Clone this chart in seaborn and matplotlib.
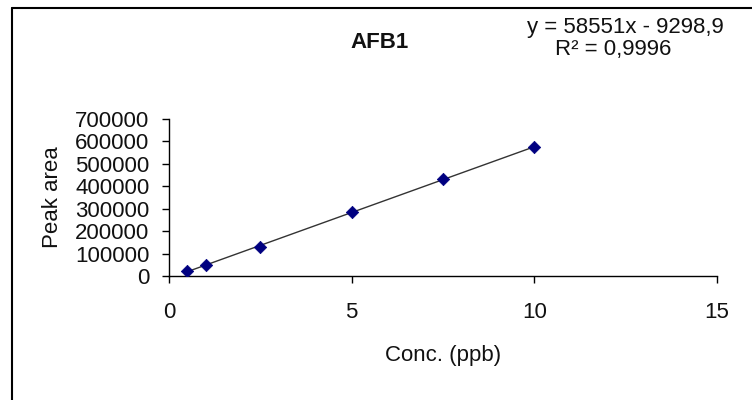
import matplotlib
matplotlib.use("Agg")
import matplotlib.pyplot as plt
from matplotlib.lines import Line2D
import seaborn as sns
import pandas as pd

# Data
conc = [0.5, 1.0, 2.5, 5.0, 7.5, 10.0]
peak_area = [23000, 48500, 130000, 285000, 431000, 576000]
x_ticks = [0, 5, 10, 15]
y_ticks = [0, 100000, 200000, 300000, 400000, 500000, 600000, 700000]
y_tick_labels = ["0", "100000", "200000", "300000", "400000", "500000", "600000", "700000"]
title = "AFB1"
eq_line1 = "y = 58551x - 9298,9"
eq_line2 = "R² = 0,9996"

df = pd.DataFrame({"conc": conc, "area": peak_area})

sns.set_style("ticks")
plt.rcParams["font.family"] = ["Liberation Sans", "DejaVu Sans"]

W, H = 752, 400
fig = plt.figure(figsize=(W / 100, H / 100), dpi=100)
ax = fig.add_axes([169 / W, 1 - 276 / H, (717 - 169) / W, (276 - 119) / H])

sns.regplot(data=df, x="conc", y="area", ax=ax, ci=None, truncate=True,
            marker="D",
            scatter_kws=dict(color="#000080", s=40, alpha=1, edgecolors="#000080",
                             linewidths=0.5, zorder=3),
            line_kws=dict(color="#333333", linewidth=1.0, zorder=2))

ax.set_xlim(0, 15)
ax.set_ylim(0, 700000)
ax.set_xticks(x_ticks)
ax.set_xticklabels([str(t) for t in x_ticks])
ax.set_yticks(y_ticks)
ax.set_yticklabels(y_tick_labels)

for s in ["top", "right"]:
    ax.spines[s].set_visible(False)
for s in ["left", "bottom"]:
    ax.spines[s].set_color("black")
    ax.spines[s].set_linewidth(1.0)

ax.tick_params(axis="both", which="major", direction="out", length=5, width=1.0,
               color="black", labelsize=16, labelcolor="#111111")
ax.tick_params(axis="x", pad=14)
ax.tick_params(axis="y", pad=9)

ax.set_xlabel("Conc. (ppb)", fontsize=16, color="#111111", va="center")
ax.xaxis.set_label_coords(0.5, (276 - 355) / 157)
ax.set_ylabel("Peak area", fontsize=16, color="#111111", va="center")
ax.yaxis.set_label_coords((52 - 169) / 548, 0.5)

fig.text(380 / W, 1 - 42 / H, title, fontsize=16, fontweight="bold",
         ha="center", va="center", color="#111111")
fig.text(625 / W, 1 - 27 / H, eq_line1, fontsize=16, ha="center", va="center", color="#111111")
fig.text(613 / W, 1 - 50 / H, eq_line2, fontsize=16, ha="center", va="center", color="#111111")

# Outer chart-area border (left and top visible)
fig.add_artist(Line2D([11.5 / W, 11.5 / W], [0, 1 - 8 / H], transform=fig.transFigure,
                      color="black", linewidth=1.5))
fig.add_artist(Line2D([11.5 / W, 1], [1 - 8 / H, 1 - 8 / H], transform=fig.transFigure,
                      color="black", linewidth=1.5))

fig.savefig("out.png", dpi=100)
